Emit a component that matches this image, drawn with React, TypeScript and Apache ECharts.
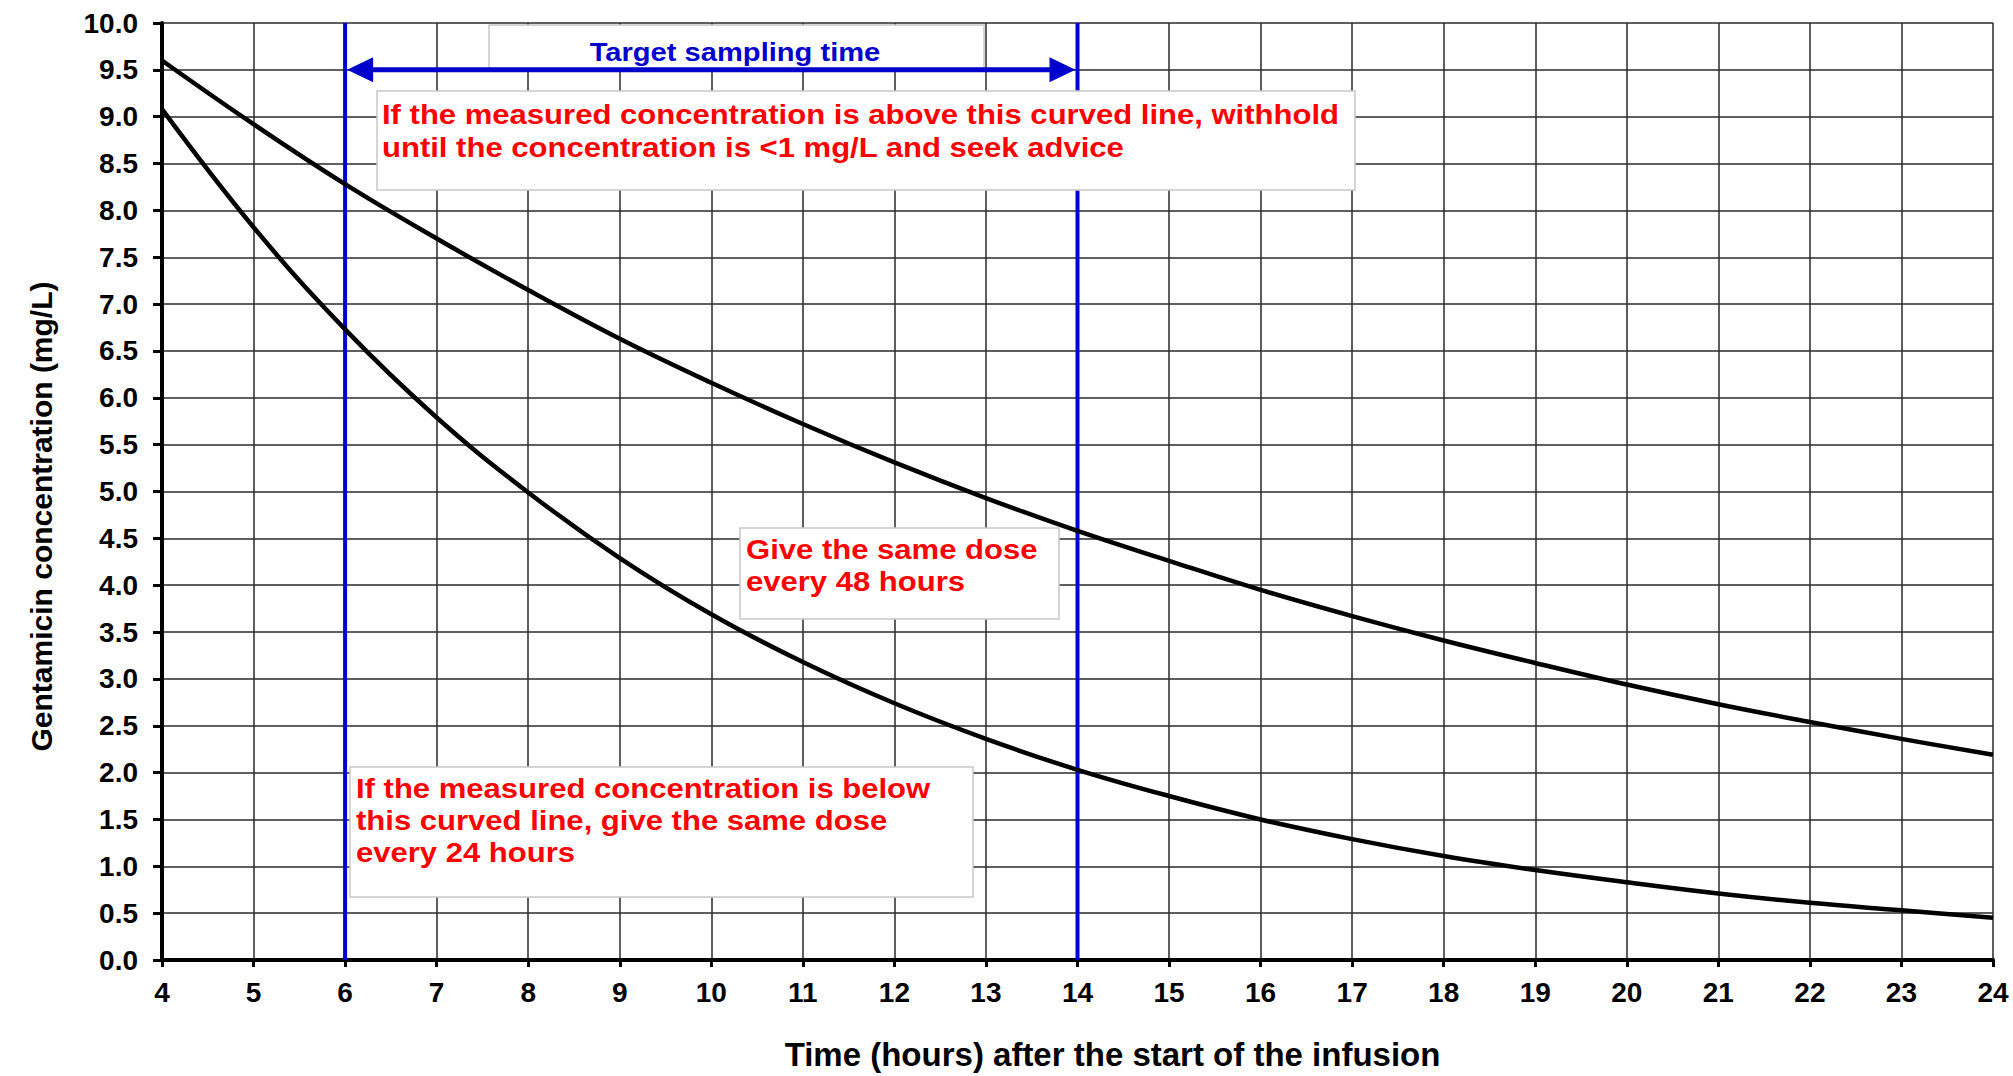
import React, { useEffect, useRef } from "react";
import * as echarts from "echarts";

// ---- data ----
const HOURS = [4, 5, 6, 7, 8, 9, 10, 11, 12, 13, 14, 15, 16, 17, 18, 19, 20, 21, 22, 23, 24];
const UPPER_CURVE = [9.6, 8.92, 8.28, 7.7, 7.15, 6.63, 6.16, 5.72, 5.31, 4.93, 4.58, 4.26, 3.95, 3.67, 3.41, 3.17, 2.94, 2.73, 2.54, 2.36, 2.19];
const LOWER_CURVE = [9.08, 7.82, 6.73, 5.79, 4.99, 4.29, 3.69, 3.18, 2.74, 2.36, 2.03, 1.75, 1.5, 1.29, 1.11, 0.96, 0.83, 0.71, 0.61, 0.53, 0.45];
const X_RANGE = [4, 24];
const Y_RANGE = [0, 10];
const Y_INTERVAL = 0.5;
const SAMPLING_WINDOW = [6, 14];
const ARROW_Y = 9.5;

const X_NAME = "Time (hours) after the start of the infusion";
const Y_NAME = "Gentamicin concentration (mg/L)";
const TARGET_LABEL = "Target sampling time";
const NOTE_ABOVE = "If the measured concentration is above this curved line, withhold\nuntil the concentration is <1 mg/L and seek advice";
const NOTE_MIDDLE = "Give the same dose\nevery 48 hours";
const NOTE_BELOW = "If the measured concentration is below\nthis curved line, give the same dose\nevery 24 hours";

const FONT = '"Liberation Sans", Arial, Helvetica, sans-serif';
const BLUE = "#0000CC";
const RED = "#FF0000";

export default function App() {
  const ref = useRef<HTMLDivElement>(null);

  useEffect(() => {
    if (!ref.current) return;
    const chart = echarts.init(ref.current, null, { renderer: "svg" });

    const axisCommon = {
      type: "value" as const,
      axisLine: { show: true, onZero: false, lineStyle: { color: "#000", width: 4 } },
      splitLine: { show: true, lineStyle: { color: "#2a2a2a", width: 1.5 } },
      axisLabel: { color: "#000", fontSize: 28, fontWeight: "bold", fontFamily: FONT },
      nameLocation: "middle" as const,
    };

    chart.setOption({
      animation: false,
      backgroundColor: "#fff",
      grid: { left: 162, right: 20, top: 23, bottom: 115, containLabel: false },
      xAxis: {
        ...axisCommon,
        min: X_RANGE[0],
        max: X_RANGE[1],
        interval: 1,
        axisTick: { show: true, length: 7, lineStyle: { color: "#000", width: 3 } },
        axisLabel: { ...axisCommon.axisLabel, margin: 18 },
        name: X_NAME,
        nameGap: 78,
        nameTextStyle: { color: "#000", fontSize: 33, fontWeight: "bold", fontFamily: FONT, padding: [0, 0, 0, 70] },
      },
      yAxis: {
        ...axisCommon,
        min: Y_RANGE[0],
        max: Y_RANGE[1],
        interval: Y_INTERVAL,
        axisTick: { show: true, length: 9, lineStyle: { color: "#000", width: 3 } },
        axisLabel: { ...axisCommon.axisLabel, margin: 24, formatter: (v: number) => v.toFixed(1) },
        name: Y_NAME,
        nameGap: 106,
        nameTextStyle: { color: "#000", fontSize: 30, fontWeight: "bold", fontFamily: FONT, padding: [0, 50, 0, 0] },
      },
      series: [
        ...SAMPLING_WINDOW.map((h, i) => ({
          name: i === 0 ? "Sampling window start" : "Sampling window end",
          type: "line",
          z: 1,
          showSymbol: false,
          silent: true,
          data: [[h, Y_RANGE[0]], [h, Y_RANGE[1]]],
          lineStyle: { color: BLUE, width: 4 },
        })),
        {
          name: "Upper limit",
          type: "line",
          z: 10,
          smooth: 0.4,
          showSymbol: false,
          data: HOURS.map((h, i) => [h, UPPER_CURVE[i]]),
          lineStyle: { color: "#000", width: 4.5 },
        },
        {
          name: "Lower limit",
          type: "line",
          z: 10,
          smooth: 0.4,
          showSymbol: false,
          data: HOURS.map((h, i) => [h, LOWER_CURVE[i]]),
          lineStyle: { color: "#000", width: 4.5 },
        },
      ],
    });

    const px = (x: number, y: number) => chart.convertToPixel({ gridIndex: 0 }, [x, y]) as number[];
    const [ax0, ay] = px(SAMPLING_WINDOW[0], ARROW_Y);
    const [ax1] = px(SAMPLING_WINDOW[1], ARROW_Y);
    const headL = 28;
    const headW = 12.5;

    const box = (x: number, y: number, w: number, h: number) => ({
      type: "rect",
      z: 5,
      shape: { x, y, width: w, height: h },
      style: { fill: "#fff", stroke: "#c8c8c8", lineWidth: 1.5 },
    });
    const note = (x: number, y: number, text: string, lh: number) => ({
      type: "text",
      z: 6,
      x,
      y,
      scaleX: 1.15,
      style: {
        text,
        fill: RED,
        fontSize: 27,
        fontWeight: "bold",
        fontFamily: FONT,
        lineHeight: lh,
        align: "left",
        verticalAlign: "top",
      },
    });

    chart.setOption({
      graphic: [
        box(489, 25, 495, 45),
        {
          type: "text",
          z: 6,
          x: 735,
          y: 52,
          scaleX: 1.12,
          style: {
            text: TARGET_LABEL,
            fill: BLUE,
            fontSize: 26,
            fontWeight: "bold",
            fontFamily: FONT,
            align: "center",
            verticalAlign: "middle",
          },
        },
        box(377, 91, 978, 99),
        note(382, 98, NOTE_ABOVE, 33),
        box(740, 528, 319, 91),
        note(746, 534, NOTE_MIDDLE, 32),
        box(350, 767, 623, 130),
        note(356, 773, NOTE_BELOW, 32),
        {
          type: "line",
          z: 11,
          shape: { x1: ax0 + headL - 2, y1: ay, x2: ax1 - headL + 2, y2: ay },
          style: { stroke: BLUE, lineWidth: 5 },
        },
        {
          type: "polygon",
          z: 11,
          shape: { points: [[ax0 + 2, ay], [ax0 + headL, ay - headW], [ax0 + headL, ay + headW]] },
          style: { fill: BLUE },
        },
        {
          type: "polygon",
          z: 11,
          shape: { points: [[ax1 - 2, ay], [ax1 - headL, ay - headW], [ax1 - headL, ay + headW]] },
          style: { fill: BLUE },
        },
      ],
    });

    return () => chart.dispose();
  }, []);

  return (
    <div
      ref={ref}
      style={{ position: "fixed", left: 0, top: 0, width: 2013, height: 1076, background: "#fff" }}
    />
  );
}
